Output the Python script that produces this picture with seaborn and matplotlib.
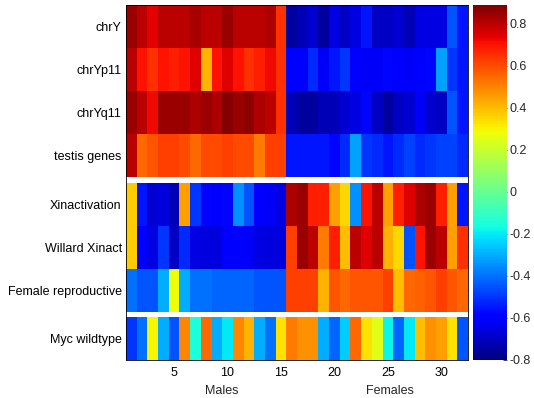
import numpy as np
import pandas as pd
import seaborn as sns
import matplotlib
matplotlib.use("Agg")
import matplotlib.pyplot as plt

# ---- data (32 samples: 1-15 males, 16-32 females) ----
samples = list(range(1, 33))
row_labels = ["chrY", "chrYp11", "chrYq11", "testis genes",
              "Xinactivation", "Willard Xinact", "Female reproductive",
              "Myc wildtype"]

chrY = [0.85, 0.80, 0.74, 0.80, 0.80, 0.80, 0.83, 0.80,
        0.80, 0.85, 0.80, 0.80, 0.80, 0.82, 0.65,
        -0.75,
        -0.72, -0.68, -0.75, -0.65, -0.70, -0.65, -0.55, -0.70,
        -0.70, -0.68, -0.72, -0.65, -0.65, -0.65, -0.45, -0.55]
chrYp11 = [0.80, 0.70, 0.65, 0.70, 0.68, 0.70, 0.75, 0.42,
           0.70, 0.75, 0.70, 0.65, 0.68, 0.72, 0.65,
           -0.60,
           -0.60, -0.52, -0.62, -0.55, -0.50, -0.60, -0.62, -0.62,
           -0.58, -0.60, -0.62, -0.60, -0.58, -0.32, -0.50, -0.55]
chrYq11 = [0.85, 0.80, 0.72, 0.85, 0.85, 0.85, 0.82, 0.85,
           0.82, 0.88, 0.85, 0.87, 0.82, 0.80, 0.65,
           -0.72,
           -0.75, -0.75, -0.72, -0.72, -0.68, -0.65, -0.58, -0.70,
           -0.75, -0.70, -0.68, -0.62, -0.68, -0.70, -0.45, -0.55]
testis = [0.80, 0.55, 0.58, 0.62, 0.62, 0.60, 0.55, 0.60,
          0.60, 0.62, 0.60, 0.60, 0.52, 0.62, 0.62,
          -0.55,
          -0.55, -0.55, -0.55, -0.58, -0.52, -0.32, -0.50, -0.52,
          -0.55, -0.52, -0.48, -0.52, -0.50, -0.48, -0.48, -0.52]
xinact = [0.37, -0.55, -0.68, -0.66, -0.72, 0.45, -0.50, -0.58,
          -0.60, -0.58, -0.35, -0.45, -0.60, -0.62, -0.65,
          0.82,
          0.85, 0.68, 0.68, 0.45, 0.35, -0.35, 0.70, 0.80,
          0.45, 0.68, 0.75, 0.82, 0.85, 0.68, 0.45, -0.55]
willard = [0.37, -0.60, -0.65, -0.50, -0.70, -0.52, -0.65, -0.66,
           -0.66, -0.60, -0.60, -0.62, -0.65, -0.66, -0.66,
           0.62,
           0.85, 0.80, 0.52, 0.68, 0.40, 0.80, 0.75, 0.80,
           0.42, 0.35, -0.45, 0.70, 0.85, 0.80, 0.45, 0.65]
female = [-0.40, -0.45, -0.45, -0.30, 0.28, -0.30, -0.40, -0.40,
          -0.42, -0.42, -0.42, -0.42, -0.45, -0.45, -0.45,
          0.62,
          0.62, 0.62, 0.42, 0.58, 0.55, 0.58, 0.58, 0.58,
          0.62, 0.40, 0.55, 0.56, 0.58, 0.62, 0.58, 0.55]
myc = [-0.50, -0.40, 0.30, -0.30, -0.45, 0.50, -0.15, 0.55,
       -0.30, -0.20, 0.50, 0.42, -0.30, -0.40, 0.33,
       0.52,
       0.48, 0.48, -0.30, -0.42, -0.25, 0.55, 0.33, 0.25,
       -0.18, -0.42, -0.20, 0.40, 0.48, 0.45, 0.33, -0.45]

rows = [chrY, chrYp11, chrYq11, testis, xinact, willard, female, myc]
groups = [[0, 1, 2, 3], [4, 5, 6], [7]]
xtick_vals = [5, 10, 15, 20, 25, 30]
cbar_ticks = [-0.8, -0.6, -0.4, -0.2, 0, 0.2, 0.4, 0.6, 0.8]
cbar_labels = ["-0.8", "-0.6", "-0.4", "-0.2", "0", "0.2", "0.4", "0.6", "0.8"]

# ---- build display matrix (each row drawn as a tall band, white gaps between groups) ----
units = 8
blocks, ytick_pos = [], []
y = 0
for gi, g in enumerate(groups):
    if gi > 0:
        blocks.append(np.full((1, len(samples)), np.nan))
        y += 1
    for r in g:
        blocks.append(np.tile(np.array(rows[r], dtype=float), (units, 1)))
        ytick_pos.append(y + units / 2)
        y += units
mat = pd.DataFrame(np.vstack(blocks), columns=samples)

sns.set_style("white")
plt.rcParams["font.family"] = ["Liberation Sans", "DejaVu Sans"]

W, H = 534, 398
fig = plt.figure(figsize=(W / 100, H / 100), dpi=100)
ax = fig.add_axes([126 / W, 1 - 360 / H, 342 / W, 355 / H])
cax = fig.add_axes([473 / W, 1 - 360 / H, 34 / W, 355 / H])

sns.heatmap(mat, ax=ax, cbar_ax=cax, cmap="jet", vmin=-0.8, vmax=0.89,
            xticklabels=False, yticklabels=False)

ax.set_xticks([v - 0.5 for v in xtick_vals])
ax.set_xticklabels([str(v) for v in xtick_vals], rotation=0)
ax.set_yticks(ytick_pos)
ax.set_yticklabels(row_labels, rotation=0)
ax.tick_params(axis="both", direction="in", length=3, width=0.6,
               top=True, right=True, labelsize=9, colors="black")
ax.tick_params(axis="x", pad=5)
ax.tick_params(axis="y", pad=3)
for s in ax.spines.values():
    s.set_visible(True)
    s.set_linewidth(0.6)
    s.set_color("black")

cbar = ax.collections[0].colorbar
cbar.set_ticks(cbar_ticks)
cbar.set_ticklabels(cbar_labels)
cax.tick_params(direction="in", length=3, width=0.6, labelsize=9, pad=2)

fig.text(222 / W, 1 - 391 / H, "Males", ha="center", va="center", fontsize=9)
fig.text(390 / W, 1 - 391 / H, "Females", ha="center", va="center", fontsize=9)

fig.savefig("out.png", dpi=100)
